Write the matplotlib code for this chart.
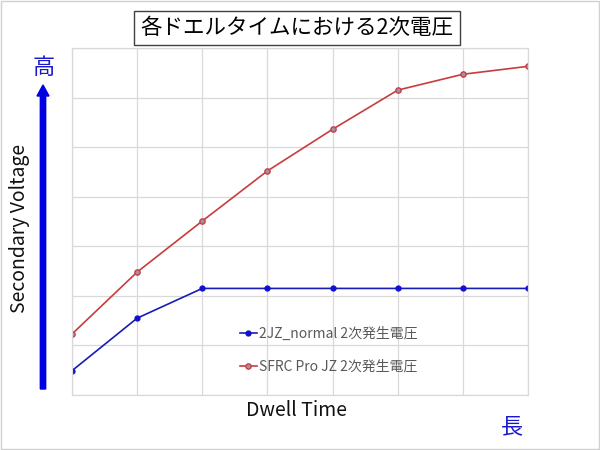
import matplotlib
matplotlib.use('Agg')
import matplotlib.pyplot as plt
from matplotlib.patches import FancyArrow, Rectangle

plt.rcParams['font.family'] = ['Noto Sans CJK JP', 'DejaVu Sans']

# dwell time steps (no tick labels in the original) and relative voltage
dwell = [0, 1, 2, 3, 4, 5, 6, 7]
normal_v = [0.49, 1.55, 2.15, 2.15, 2.15, 2.15, 2.15, 2.15]
sfrc_v = [1.23, 2.48, 3.51, 4.52, 5.36, 6.15, 6.47, 6.63]

label_normal = '2JZ_normal 2次発生電圧'
label_sfrc = 'SFRC Pro JZ 2次発生電圧'
title = '各ドエルタイムにおける2次電圧'

fig = plt.figure(figsize=(6, 4.5), dpi=100)
ax = fig.add_axes([72/600, 1 - 395/450, 456/600, 347/450])

ax.plot(dwell, normal_v, color='#1a1ab8', lw=1.2, marker='o', ms=3.5,
        mfc='#1010d0', mec='#1010d0', label=label_normal)
ax.plot(dwell, sfrc_v, color='#c83c3c', lw=1.2, marker='o', ms=3.8,
        mfc='#a89098', mec='#c04050', label=label_sfrc)

ax.set_xlim(0, 7)
ax.set_ylim(0, 7)
ax.set_xticks(range(8))
ax.set_yticks(range(8))
ax.set_xticklabels([])
ax.set_yticklabels([])
ax.tick_params(length=0)
ax.grid(True, color='#d9d9d9', lw=0.9)
for s in ax.spines.values():
    s.set_color('#d9d9d9')
    s.set_linewidth(0.9)

leg = ax.legend(loc='upper left', bbox_to_anchor=(0.356, 0.213), frameon=False,
                fontsize=10, labelspacing=1.35, handlelength=1.2,
                handletextpad=0.2, borderaxespad=0)
for t in leg.get_texts():
    t.set_color('#595959')

fig.text(0.495, 1 - 28/450, title, ha='center', va='center', fontsize=15.5,
         bbox=dict(boxstyle='square,pad=0.3', fc='white', ec='#404040', lw=1))

fig.text(20/600, 1 - 228/450, 'Secondary Voltage', rotation=90, ha='center',
         va='center', fontsize=14, color='#111111')
fig.text(296/600, 1 - 410/450, 'Dwell Time', ha='center', va='center',
         fontsize=14, color='#111111')

# blue arrow on the left and the 高 / 長 marks
fig.patches.append(FancyArrow(43/600, 1 - 389/450, 0, (389 - 85)/450,
                              width=4/450, head_width=12/600, head_length=11/450,
                              length_includes_head=True, color='#0000e0',
                              transform=fig.transFigure, figure=fig))
fig.text(44/600, 1 - 68/450, '高', ha='center', va='center', fontsize=16,
         color='#1a1acc')
fig.text(512/600, 1 - 427/450, '長', ha='center', va='center', fontsize=16,
         color='#1a1acc')

fig.patches.append(Rectangle((0.002, 0.002), 0.996, 0.996, fill=False,
                             ec='#d0d0d0', lw=1, transform=fig.transFigure,
                             figure=fig))

fig.savefig('out.png', dpi=100)
